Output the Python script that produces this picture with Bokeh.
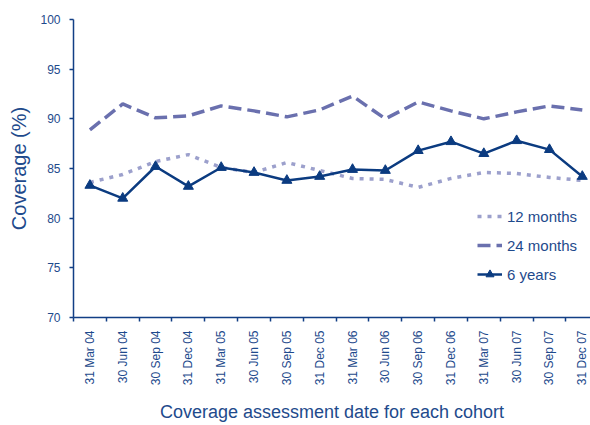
import math
from bokeh.plotting import figure
from bokeh.models import FixedTicker, Legend, LegendItem, Range1d
from bokeh.embed import file_html
from bokeh.resources import INLINE

dates = ["31 Mar 04", "30 Jun 04", "30 Sep 04", "31 Dec 04", "31 Mar 05", "30 Jun 05",
         "30 Sep 05", "31 Dec 05", "31 Mar 06", "30 Jun 06", "30 Sep 06", "31 Dec 06",
         "31 Mar 07", "30 Jun 07", "30 Sep 07", "31 Dec 07"]
months12 = [83.6, 84.4, 85.7, 86.4, 85.1, 84.6, 85.6, 84.8, 84.0, 83.9, 83.1, 84.0,
            84.6, 84.5, 84.1, 83.8]
months24 = [88.9, 91.5, 90.1, 90.3, 91.3, 90.8, 90.2, 90.9, 92.3, 90.0, 91.7, 90.8,
            90.0, 90.7, 91.3, 90.9]
years6 = [83.3, 82.0, 85.2, 83.2, 85.1, 84.6, 83.8, 84.2, 84.9, 84.8, 86.8, 87.7,
          86.5, 87.8, 86.9, 84.2]
y_ticks = [70, 75, 80, 85, 90, 95, 100]

TEXT = "#1e4a8c"
AXIS = "#123f85"
C6 = "#0b3b80"
C24 = "#6a70ae"
C12 = "#9ca0cc"
FONT = "Liberation Sans"

xs = list(range(len(dates)))

p = figure(width=590, height=425, output_backend="svg", toolbar_location=None,
           x_range=Range1d(-0.5, 15.25), y_range=Range1d(70, 100),
           min_border_left=73, min_border_top=19, min_border_right=0,
           min_border_bottom=0)
p.outline_line_color = None
p.grid.visible = False
p.background_fill_color = "white"
p.border_fill_color = "white"

r12 = p.line(xs, months12, line_color=C12, line_width=3.5, line_dash="4 6")
r24 = p.line(xs, months24, line_color=C24, line_width=3.5, line_dash="13 6")
r6 = p.line(xs, years6, line_color=C6, line_width=2.5)
r6m = p.scatter(xs, years6, marker="triangle", size=10, fill_color=C6, line_color=C6)

# x axis
xa = p.xaxis[0]
xa.ticker = FixedTicker(ticks=xs, minor_ticks=[i - 0.5 for i in xs])
xa.major_label_overrides = {i: d for i, d in enumerate(dates)}
xa.major_label_orientation = math.pi / 2
xa.major_tick_line_color = None
xa.major_tick_out = 4
xa.major_tick_in = 0
xa.minor_tick_line_color = AXIS
xa.minor_tick_out = 4
xa.minor_tick_in = 0
xa.minor_tick_line_width = 1.5
xa.axis_line_color = AXIS
xa.axis_line_width = 1.5
xa.major_label_standoff = 9
xa.major_label_text_font = FONT
xa.major_label_text_font_size = "12px"
xa.major_label_text_color = TEXT
xa.axis_label = "Coverage assessment date for each cohort"
xa.axis_label_text_font = FONT
xa.axis_label_text_font_size = "18px"
xa.axis_label_text_font_style = "normal"
xa.axis_label_text_color = TEXT
xa.axis_label_standoff = 14

# y axis
ya = p.yaxis[0]
ya.ticker = FixedTicker(ticks=y_ticks, minor_ticks=[])
ya.major_tick_out = 4
ya.major_tick_in = 0
ya.major_tick_line_color = AXIS
ya.major_tick_line_width = 1.5
ya.axis_line_color = AXIS
ya.axis_line_width = 1.5
ya.major_label_standoff = 9
ya.major_label_text_font = FONT
ya.major_label_text_font_size = "12px"
ya.major_label_text_color = TEXT
ya.axis_label = "Coverage (%)"
ya.axis_label_text_font = FONT
ya.axis_label_text_font_size = "20px"
ya.axis_label_text_font_style = "normal"
ya.axis_label_text_color = TEXT
ya.axis_label_standoff = 7

legend = Legend(items=[
    LegendItem(label="12 months", renderers=[r12]),
    LegendItem(label="24 months", renderers=[r24]),
    LegendItem(label="6 years", renderers=[r6, r6m]),
], location=(404, 33))
legend.background_fill_alpha = 0
legend.border_line_color = None
legend.padding = 0
legend.margin = 0
legend.spacing = 9
legend.glyph_width = 25
legend.glyph_height = 20
legend.label_height = 20
legend.label_standoff = 5
legend.label_text_font = FONT
legend.label_text_font_size = "15px"
legend.label_text_color = TEXT
p.add_layout(legend)

open("out.html", "w").write(file_html(p, INLINE))
